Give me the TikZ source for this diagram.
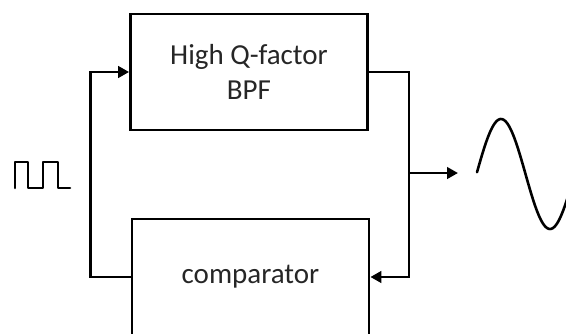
\documentclass[tikz,border=0pt]{standalone}
\usepackage{fontspec}
\setmainfont{Carlito}
\usepackage{tikz}
\usetikzlibrary{arrows.meta,positioning,calc}

\begin{document}
\begin{tikzpicture}[
    x=1pt, y=-1pt,
    block/.style={rectangle, draw=black, line width=2.8pt, minimum height=116pt, minimum width=237pt, align=center, text=black!85, font=\fontsize{29}{35}\selectfont},
    wire/.style={line width=2.8pt},
    arrow/.style={wire, -{Triangle[length=11pt,width=11.5pt]}},
    wave/.style={line width=2.6pt, line join=round, line cap=round}
]
\path[use as bounding box, clip] (0,0) rectangle (566,333);

% Blocks
\node[block] (bpf) at (249,72) {High Q-factor\\BPF};
\node[block] (comp) at (250.5,277) {comparator};

% Feedback loop
\draw[arrow] (comp.west) -- ++(-40,0) |- (bpf.west);
\draw[arrow] (bpf.east) -- ++(40,0) coordinate (tap) |- (comp.east);

% Output
\coordinate (split) at (tap |- 0,173);
\coordinate (out) at (458,173);
\draw[arrow] (split) -- (out);

% Signals
\draw[wave] (15,188) -- (15,162) -- (28,162) -- (28,188) -- (43,188) -- (43,162) -- (58,162) -- (58,188) -- (70,188);
\draw[wave] plot[domain=477:570, samples=80, smooth] (\x, {174 - 55*sin((\x-476.5)/98*360)});

\end{tikzpicture}
\end{document}
